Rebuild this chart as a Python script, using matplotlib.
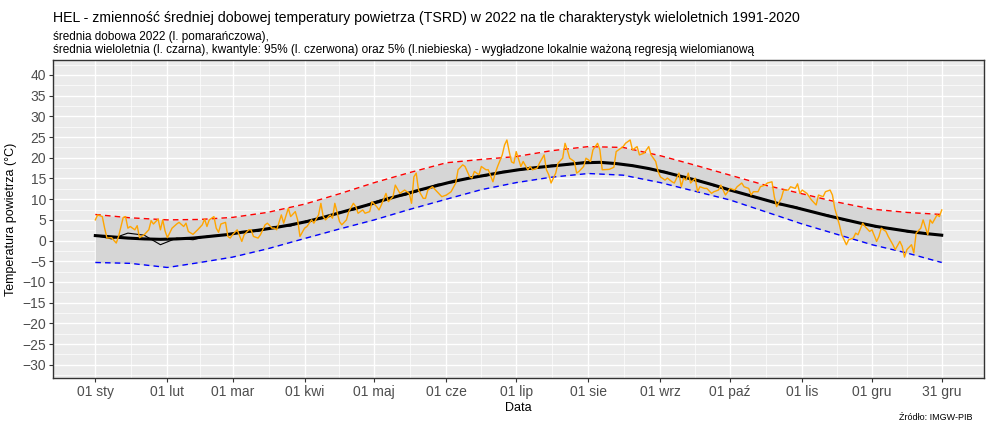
import numpy as np
import matplotlib
matplotlib.use("Agg")
import matplotlib.pyplot as plt
import matplotlib.dates as mdates

plt.rcParams['font.family'] = ['Liberation Sans', 'DejaVu Sans']

# --- data (day of year offset from 2022-01-01, temperature in C) ---
q_days = [0, 15, 31, 45, 59, 74, 90, 105, 120, 135, 151, 166, 181, 196, 212, 227, 243, 258, 273, 288, 304, 319, 334, 349, 364]
q95 = [6.3, 5.5, 5.0, 5.1, 5.6, 6.8, 8.8, 11.3, 14.0, 16.4, 18.8, 19.6, 20.3, 21.7, 22.7, 22.5, 20.5, 18.2, 15.8, 13.4, 11.3, 9.3, 7.6, 6.8, 6.3]
q05 = [-5.3, -5.5, -6.5, -5.3, -4.0, -2.0, 0.5, 2.8, 5.0, 7.5, 10.0, 12.3, 14.0, 15.3, 16.2, 15.8, 14.0, 11.9, 9.8, 7.0, 4.0, 1.5, -1.0, -3.0, -5.3]

w_days = [0, 7, 14, 21, 28, 35, 42, 49, 56, 63, 70, 77, 84, 91, 98, 105, 112, 119, 126, 133, 140, 147,
          154, 161, 168, 175, 182, 189, 196, 203, 210, 217, 224, 231, 238, 245, 252, 259, 266, 273, 280,
          287, 294, 301, 308, 315, 322, 329, 336, 343, 350, 357, 364]
mean_smooth = [1.2, 0.9, 0.6, 0.4, 0.3, 0.4, 0.6, 1.0, 1.4, 2.0, 2.5, 3.1, 3.8, 4.6, 5.6, 6.7, 7.8, 8.9,
               10.1, 11.2, 12.3, 13.3, 14.3, 15.1, 15.8, 16.5, 17.1, 17.6, 18.0, 18.4, 18.8, 18.9, 18.6,
               18.1, 17.4, 16.5, 15.5, 14.5, 13.4, 12.2, 11.1, 10.0, 8.9, 8.0, 7.0, 6.0, 5.1, 4.2, 3.4,
               2.8, 2.2, 1.7, 1.3]
mean_raw = [1.2, 0.4, 1.8, 1.3, -1.0, 0.6, 0.2, 1.2, 1.3, 2.1, 2.2, 3.4, 3.5, 4.8, 5.3, 6.9, 7.5, 9.2,
            10.4, 10.9, 12.1, 13.6, 14.0, 15.3, 15.6, 16.7, 17.0, 17.4, 18.2, 18.3, 18.9, 19.0, 18.5,
            18.2, 17.3, 16.7, 15.3, 14.7, 13.2, 12.4, 11.0, 10.1, 8.7, 8.2, 6.9, 6.2, 4.9, 4.3, 3.2,
            2.9, 2.0, 1.8, 1.2]

d2022 = [0, 1, 3, 4, 5, 7, 9, 10, 12, 13, 14, 15, 17, 18, 19, 21, 23, 24, 25, 27, 28, 29, 30, 31, 33, 35,
         36, 38, 39, 40, 42, 44, 46, 47, 48, 49, 51, 52, 53, 54, 56, 57, 58, 59, 61, 63, 64, 66, 67, 68,
         70, 71, 73, 74, 76, 77, 78, 80, 81, 83, 84, 86, 87, 88, 90, 91, 93, 94, 96, 97, 98, 99, 101,
         102, 103, 105, 106, 108, 109, 111, 112, 113, 115, 116, 118, 119, 121, 122, 123, 125, 126, 128,
         129, 131, 132, 133, 135, 136, 137, 138, 139, 141, 142, 143, 145, 147, 149, 151, 153, 155, 156,
         158, 159, 161, 162, 163, 165, 166, 168, 169, 171, 172, 173, 175, 176, 177, 178, 179, 180, 181,
         183, 184, 186, 187, 188, 190, 191, 193, 194, 195, 196, 198, 199, 201, 202, 203, 204, 206, 207,
         208, 210, 211, 213, 214, 216, 217, 218, 221, 223, 224, 226, 227, 228, 230, 231, 233, 234, 236,
         238, 239, 241, 242, 243, 245, 246, 248, 249, 251, 252, 253, 254, 255, 256, 258, 259, 260, 262,
         263, 265, 266, 268, 269, 271, 272, 273, 275, 276, 278, 279, 281, 282, 283, 285, 286, 288, 289,
         291, 292, 293, 295, 296, 298, 299, 301, 302, 303, 304, 306, 307, 308, 310, 311, 313, 314, 316,
         317, 318, 320, 321, 323, 324, 326, 327, 328, 330, 331, 333, 334, 336, 337, 338, 340, 341, 343,
         344, 346, 347, 348, 349, 351, 352, 353, 355, 356, 358, 359, 360, 362, 363, 364]
t2022 = [5.0, 6.2, 5.8, 3.0, 0.6, 0.7, -0.6, 1.0, 5.6, 5.8, 3.0, 3.4, 2.6, 3.6, 0.7, 1.4, 2.6, 4.8, 4.0,
         5.2, 2.6, 5.0, 2.3, 0.7, 3.0, 4.0, 4.4, 3.4, 4.2, 2.2, 1.5, 2.6, 3.8, 5.2, 3.4, 5.0, 5.8, 3.0,
         2.0, 4.0, 4.4, 1.0, 0.6, 1.4, 2.6, -0.2, 1.4, 2.6, 2.6, 1.0, 0.6, 1.4, 3.8, 4.2, 3.0, 3.0, 2.6,
         6.2, 4.2, 7.8, 5.8, 7.0, 5.0, 1.0, 3.0, 3.4, 5.0, 4.2, 6.2, 9.0, 5.8, 5.0, 6.2, 5.4, 9.0, 4.6,
         3.8, 5.0, 7.0, 9.0, 8.2, 6.6, 7.4, 6.6, 7.0, 9.4, 8.2, 7.4, 8.6, 11.4, 9.4, 10.6, 13.4, 11.4,
         11.8, 12.2, 11.4, 9.0, 15.4, 16.3, 12.2, 10.2, 10.2, 12.2, 13.0, 11.8, 10.6, 11.0, 11.8, 13.9,
         17.1, 18.3, 17.9, 15.4, 15.1, 16.7, 15.9, 17.9, 17.1, 17.1, 14.2, 16.3, 17.9, 20.7, 23.1, 24.3,
         21.5, 19.0, 18.7, 21.5, 17.9, 19.1, 17.1, 17.9, 17.1, 17.5, 18.7, 20.7, 17.1, 15.9, 13.9, 16.3,
         18.7, 19.9, 23.5, 21.9, 19.9, 19.1, 16.3, 16.7, 17.9, 19.9, 19.1, 21.9, 23.5, 21.9, 17.1, 17.2,
         17.7, 21.5, 22.3, 22.7, 23.5, 24.3, 21.9, 22.7, 20.7, 21.1, 22.7, 20.7, 19.1, 16.7, 15.4, 14.6,
         15.1, 14.2, 13.9, 16.3, 13.0, 15.1, 14.6, 16.3, 13.9, 15.1, 11.8, 13.0, 12.6, 12.6, 11.4, 11.8,
         12.2, 13.4, 11.0, 11.8, 12.6, 12.2, 13.0, 13.9, 13.0, 12.6, 11.0, 11.8, 11.8, 13.0, 13.4, 13.9,
         14.2, 10.6, 8.2, 10.2, 12.2, 12.2, 13.0, 12.6, 13.7, 11.4, 12.2, 11.4, 10.6, 9.8, 8.6, 11.0,
         10.6, 11.8, 12.2, 11.0, 7.8, 3.8, 1.4, -1.0, 0.2, 0.6, 1.8, 1.4, 4.2, 3.4, 2.2, 2.6, -0.2, 1.0,
         3.0, 2.2, 1.0, -1.0, -2.2, -0.2, -1.4, -4.0, -2.2, -1.0, -3.0, 1.8, 3.0, 5.0, 1.4, 5.0, 4.2,
         6.2, 5.8, 7.4]

tick_labels = ['01 sty', '01 lut', '01 mar', '01 kwi', '01 maj', '01 cze', '01 lip',
               '01 sie', '01 wrz', '01 paź', '01 lis', '01 gru', '31 gru']

start = np.datetime64('2022-01-01')
def to_date(days):
    return start + np.array(days).astype('timedelta64[D]')

fig = plt.figure(figsize=(9.87, 4.25), dpi=100)
ax = fig.add_axes([0.0537, 0.1106, 0.9433, 0.748])
ax.set_facecolor('#EBEBEB')

qx = to_date(q_days)
ax.fill_between(qx, q05, q95, color='#D6D6D6', lw=0, zorder=2)
ax.plot(qx, q95, color='#FF0000', lw=1, ls=(0, (4, 3)), zorder=3)
ax.plot(qx, q05, color='#0000FF', lw=1, ls=(0, (4, 3)), zorder=3)
wx = to_date(w_days)
ax.plot(wx, mean_raw, color='black', lw=0.8, zorder=4)
ax.plot(wx, mean_smooth, color='black', lw=2.2, zorder=5)
ax.plot(to_date(d2022), t2022, color='#FFA500', lw=1, zorder=6)

# axes
major = [np.datetime64('2022-%02d-01' % m) for m in range(1, 13)] + [np.datetime64('2022-12-31')]
major_num = mdates.date2num(major)
minor_num = (major_num[:-1] + major_num[1:]) / 2
ax.set_xticks(major_num)
ax.set_xticklabels(tick_labels)
ax.set_xticks(minor_num, minor=True)
x0, x1 = mdates.date2num(np.datetime64('2022-01-01')), mdates.date2num(np.datetime64('2022-12-31'))
pad = (x1 - x0) * 0.05
ax.set_xlim(x0 - pad, x1 + pad)

ax.set_ylim(-33.2, 43.6)
ax.set_yticks(np.arange(-30, 41, 5))
ax.set_yticks(np.arange(-32.5, 43, 5), minor=True)

ax.grid(which='major', color='white', lw=1.0, zorder=0)
ax.grid(which='minor', color='white', lw=0.5, zorder=0)
ax.set_axisbelow(True)
ax.tick_params(which='major', length=3, color='#333333', labelsize=10, labelcolor='#4D4D4D', pad=2)
ax.tick_params(which='minor', length=0)
for s in ax.spines.values():
    s.set_color('#333333')
    s.set_linewidth(1.0)

ax.set_xlabel('Data', fontsize=9, labelpad=2)
ax.set_ylabel('Temperatura powietrza (°C)', fontsize=9, labelpad=4)

fig.text(0.0537, 0.958, 'HEL - zmienność średniej dobowej temperatury powietrza (TSRD) w 2022 na tle charakterystyk wieloletnich 1991-2020',
         fontsize=10.2, va='center', ha='left')
fig.text(0.0537, 0.913, 'średnia dobowa 2022 (l. pomarańczowa),', fontsize=8.5, va='center', ha='left')
fig.text(0.0537, 0.882, 'średnia wieloletnia (l. czarna), kwantyle: 95% (l. czerwona) oraz 5% (l.niebieska) - wygładzone lokalnie ważoną regresją wielomianową',
         fontsize=8.5, va='center', ha='left')
fig.text(0.985, 0.018, 'Źródło: IMGW-PIB', fontsize=6.5, va='center', ha='right')

fig.savefig('out.png', dpi=100)
